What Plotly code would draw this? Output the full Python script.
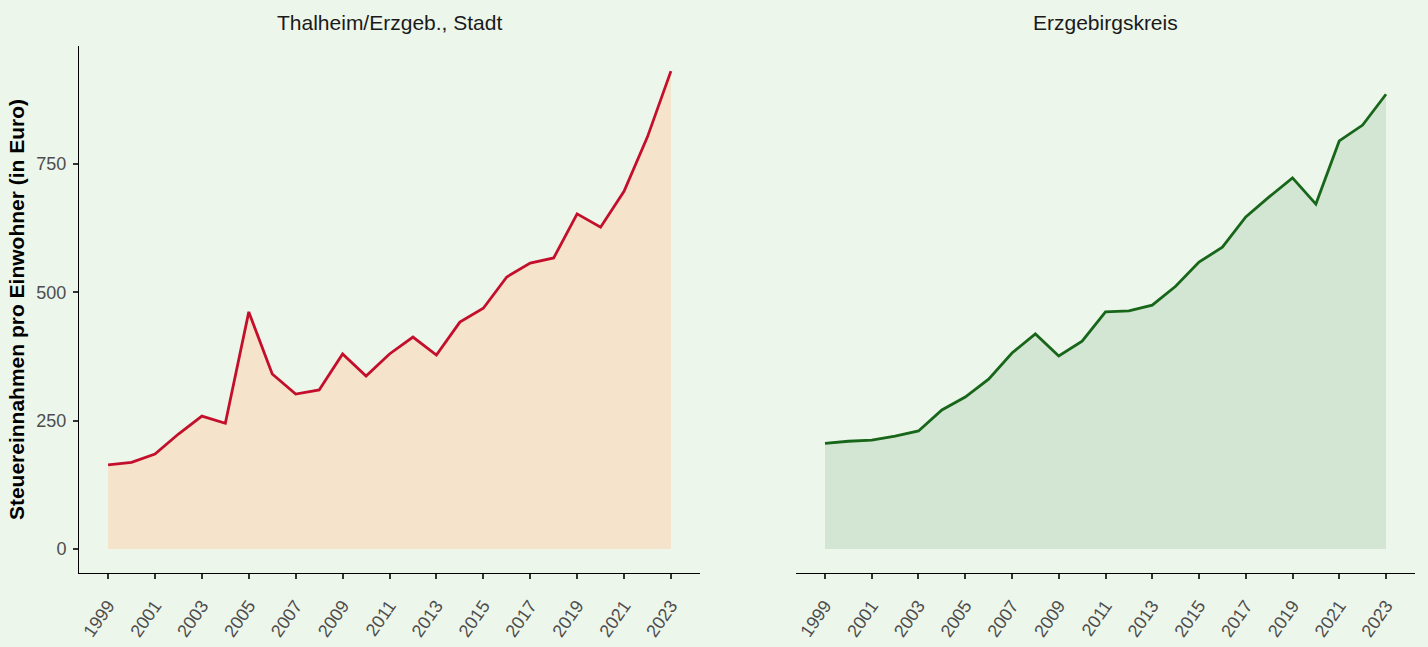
import plotly.graph_objects as go
from plotly.subplots import make_subplots

years = list(range(1999, 2024))
thalheim = [164, 169, 185, 224, 259, 245, 462, 341, 302, 310, 380, 337, 380, 413, 378,
            442, 469, 530, 557, 567, 653, 627, 697, 803, 931]
erzgebirge = [206, 210, 212, 220, 230, 271, 296, 331, 382, 419, 376, 405, 462, 464, 475,
              512, 559, 588, 647, 686, 723, 672, 795, 826, 886]
titles = ["Thalheim/Erzgeb., Stadt", "Erzgebirgskreis"]
y_ticks = [0, 250, 500, 750]
x_ticks = list(range(1999, 2024, 2))

BG = "#EDF6EB"
FONT = "Liberation Sans, Arial, sans-serif"

fig = make_subplots(rows=1, cols=2, horizontal_spacing=0.07)

fig.add_trace(go.Scatter(x=years, y=thalheim, mode="lines", fill="tozeroy",
                         fillcolor="#F5E3CB", line=dict(color="#C40F2C", width=2.8),
                         showlegend=False, hoverinfo="x+y"), row=1, col=1)
fig.add_trace(go.Scatter(x=years, y=erzgebirge, mode="lines", fill="tozeroy",
                         fillcolor="#D3E6D3", line=dict(color="#17661A", width=2.8),
                         showlegend=False, hoverinfo="x+y"), row=1, col=2)

xr = [1997.76, 2024.24]
yr = [-46.7, 980]
W, H = 1428, 647
ml, mr, mt, mb = 79, 13, 46, 74
pw = W - ml - mr
d1 = [0, (700 - ml) / pw]
d2 = [(796 - ml) / pw, 1]

common_x = dict(range=xr, tickmode="array", tickvals=x_ticks, ticktext=[str(t) for t in x_ticks],
                tickangle=-55, showline=True, linecolor="#000000", linewidth=1,
                ticks="outside", ticklen=5, tickwidth=2, tickcolor="#333333",
                ticklabelstandoff=9, automargin=False,
                showgrid=False, zeroline=False,
                tickfont=dict(family=FONT, size=18, color="#4D4D4D"))
fig.update_xaxes(**common_x, domain=d1, row=1, col=1)
fig.update_xaxes(**common_x, domain=d2, row=1, col=2)

fig.update_yaxes(range=yr, tickmode="array", tickvals=y_ticks, ticktext=[str(t) for t in y_ticks],
                 showline=True, linecolor="#000000", linewidth=1,
                 ticks="outside", ticklen=5, tickwidth=2, tickcolor="#333333",
                 ticklabelstandoff=3, automargin=False,
                 showgrid=False, zeroline=False,
                 tickfont=dict(family=FONT, size=18, color="#4D4D4D"),
                 title=dict(text="<b>Steuereinnahmen pro Einwohner (in Euro)</b>",
                            font=dict(family=FONT, size=21, color="#000000"), standoff=6),
                 row=1, col=1)
fig.update_yaxes(range=yr, showline=False, showticklabels=False, ticks="",
                 showgrid=False, zeroline=False, automargin=False, row=1, col=2)

for i, t in enumerate(titles):
    dom = d1 if i == 0 else d2
    fig.add_annotation(text=t, x=(dom[0] + dom[1]) / 2, xref="paper", xanchor="center",
                       y=1, yref="paper", yshift=10, yanchor="bottom", showarrow=False,
                       font=dict(family=FONT, size=21, color="#1A1A1A"))

fig.update_layout(width=W, height=H, margin=dict(l=ml, r=mr, t=mt, b=mb, autoexpand=False),
                  paper_bgcolor=BG, plot_bgcolor=BG, font=dict(family=FONT))

fig.write_html("out.html", config={"displayModeBar": False},
               post_script="document.body.style.margin='0';document.body.style.background='" + BG + "';")
